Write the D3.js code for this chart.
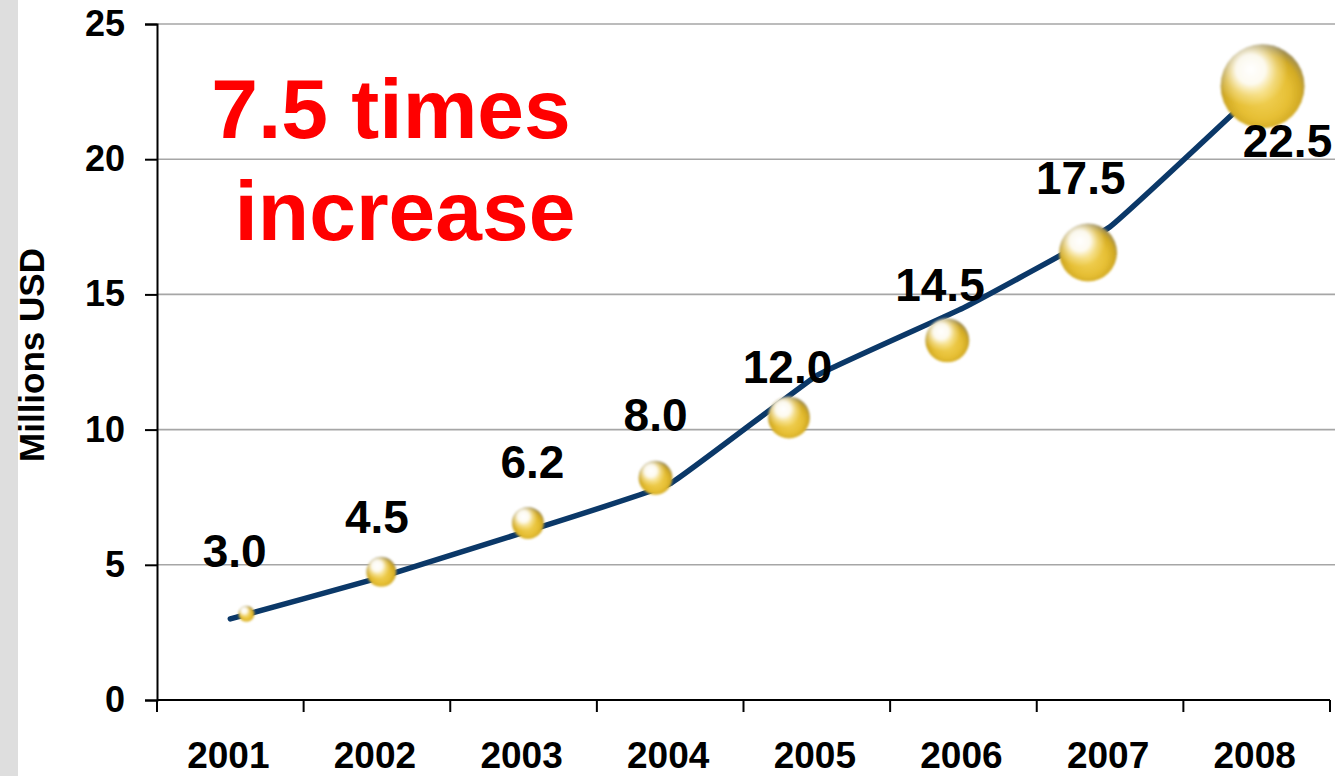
<!DOCTYPE html>
<html>
<head>
<meta charset="utf-8">
<script src="https://cdn.jsdelivr.net/npm/d3@7"></script>
<style>
  html, body { margin: 0; padding: 0; background: #fff; }
  svg { display: block; }
  text { font-family: "Liberation Sans", Arial, sans-serif; font-weight: bold; }
</style>
</head>
<body>
<svg id="chart" width="1335" height="776"></svg>
<script>
// ---- data ----
const years = [2001, 2002, 2003, 2004, 2005, 2006, 2007, 2008];
const values = [3.0, 4.5, 6.2, 8.0, 12.0, 14.5, 17.5, 22.5];
const labels = ["3.0", "4.5", "6.2", "8.0", "12.0", "14.5", "17.5", "22.5"];
// bubble overlay (position in year units / value units, size)
const bubbleYears = [2001.11, 2002.03, 2003.03, 2003.9, 2004.81, 2005.89, 2006.85, 2008.04];
const bubbleValues = [3.19, 4.74, 6.55, 8.22, 10.45, 13.3, 16.55, 22.7];
const bubbleSizes = [64, 225, 256, 289, 441, 484, 841, 1764];
// data label anchor positions (year units / value units)
const labelYears = [2001.03, 2002.0, 2003.06, 2003.9, 2004.8, 2005.84, 2006.8, 2008.21];
const labelValues = [4.93, 6.19, 8.22, 9.93, 11.74, 14.74, 18.7, 20.07];
const yTicks = [0, 5, 10, 15, 20, 25];
const yTitle = "Millions USD";
const titleLines = ["7.5 times", "increase"];

// ---- layout ----
const svg = d3.select("#chart");
const W = 1335, H = 776;
const x0 = 157, x1 = 1330, yBottom = 700, yTop = 24;

svg.append("rect").attr("x", 0).attr("y", 0).attr("width", 18).attr("height", H).attr("fill", "#dedede");

const x = d3.scaleLinear().domain([years[0] - 0.5, years[years.length - 1] + 0.5]).range([x0, x1]);
const y = d3.scaleLinear().domain([0, 25]).range([yBottom, yTop]);
const r = d3.scaleSqrt().domain([0, d3.max(bubbleSizes)]).range([0, 42]);

// gridlines
svg.append("g").selectAll("line").data(yTicks.filter(d => d > 0)).join("line")
  .attr("x1", x0).attr("x2", W).attr("y1", d => y(d)).attr("y2", d => y(d))
  .attr("stroke", "#a6a6a6").attr("stroke-width", 1.6);

// y axis
const yAxis = svg.append("g").attr("transform", `translate(${x0},0)`)
  .call(d3.axisLeft(y).tickValues(yTicks).tickSize(12).tickPadding(20));
yAxis.select(".domain").attr("stroke", "#000").attr("stroke-width", 2);
yAxis.selectAll(".tick line").attr("stroke", "#000").attr("stroke-width", 2);
yAxis.selectAll(".tick text").attr("font-size", 36).attr("fill", "#000")
  .attr("font-family", "'Liberation Sans', Arial, sans-serif").attr("font-weight", "bold");

// x axis
const boundaries = d3.range(years.length + 1).map(i => years[0] - 0.5 + i);
const xg = svg.append("g");
xg.append("line").attr("x1", x0).attr("x2", x1).attr("y1", yBottom).attr("y2", yBottom)
  .attr("stroke", "#000").attr("stroke-width", 2);
xg.selectAll("line.tk").data(boundaries).join("line").attr("class", "tk")
  .attr("x1", d => x(d)).attr("x2", d => x(d)).attr("y1", yBottom).attr("y2", yBottom + 12)
  .attr("stroke", "#000").attr("stroke-width", 2);
xg.selectAll("text").data(years).join("text")
  .attr("x", d => x(d) - 2).attr("y", 768).attr("text-anchor", "middle")
  .attr("font-size", 37).attr("fill", "#000").text(d => d);

// y title
svg.append("text").attr("transform", `translate(44,${(242 + 468) / 2}) rotate(-90)`)
  .attr("text-anchor", "middle").attr("font-size", 35).attr("fill", "#000").text(yTitle);

// line
const line = d3.line().x((d, i) => x(years[i])).y(d => y(d)).curve(d3.curveCardinal.tension(0.75));
svg.append("path").datum(values).attr("d", line)
  .attr("fill", "none").attr("stroke", "#0b3868").attr("stroke-width", 5.5).attr("stroke-linecap", "round");

// bubble gradients
const defs = svg.append("defs");
const base = defs.append("radialGradient").attr("id", "goldBase").attr("cx", "50%").attr("cy", "58%").attr("r", "58%");
base.append("stop").attr("offset", "0%").attr("stop-color", "#f3d45c");
base.append("stop").attr("offset", "55%").attr("stop-color", "#e6bf34");
base.append("stop").attr("offset", "78%").attr("stop-color", "#d2aa24");
base.append("stop").attr("offset", "92%").attr("stop-color", "#a89248");
base.append("stop").attr("offset", "100%").attr("stop-color", "#9a9070");
const hl = defs.append("radialGradient").attr("id", "goldHl").attr("cx", "36%").attr("cy", "30%").attr("r", "44%");
hl.append("stop").attr("offset", "0%").attr("stop-color", "#ffffff").attr("stop-opacity", 1);
hl.append("stop").attr("offset", "40%").attr("stop-color", "#ffffff").attr("stop-opacity", 0.92);
hl.append("stop").attr("offset", "72%").attr("stop-color", "#fff8d8").attr("stop-opacity", 0.35);
hl.append("stop").attr("offset", "100%").attr("stop-color", "#fff8d8").attr("stop-opacity", 0);
const blur = defs.append("filter").attr("id", "soft").attr("x", "-30%").attr("y", "-30%").attr("width", "160%").attr("height", "160%");
blur.append("feGaussianBlur").attr("stdDeviation", 0.9);

const bub = svg.append("g").attr("filter", "url(#soft)");
bub.selectAll("circle.b").data(bubbleValues).join("circle").attr("class", "b")
  .attr("cx", (d, i) => x(bubbleYears[i])).attr("cy", d => y(d)).attr("r", (d, i) => r(bubbleSizes[i]))
  .attr("fill", "url(#goldBase)");
bub.selectAll("circle.h").data(bubbleValues).join("circle").attr("class", "h")
  .attr("cx", (d, i) => x(bubbleYears[i])).attr("cy", d => y(d)).attr("r", (d, i) => r(bubbleSizes[i]))
  .attr("fill", "url(#goldHl)");

// data labels
svg.append("g").selectAll("text").data(labels).join("text")
  .attr("x", (d, i) => x(labelYears[i])).attr("y", (d, i) => y(labelValues[i]))
  .attr("text-anchor", "middle").attr("font-size", 46).attr("fill", "#000").text(d => d);

// title
const title = svg.append("text").attr("font-size", 84).attr("fill", "#ff0000");
title.append("tspan").attr("x", 391).attr("y", 138).attr("text-anchor", "middle").text(titleLines[0]);
title.append("tspan").attr("x", 405).attr("y", 240).attr("text-anchor", "middle").text(titleLines[1]);
</script>
</body>
</html>
